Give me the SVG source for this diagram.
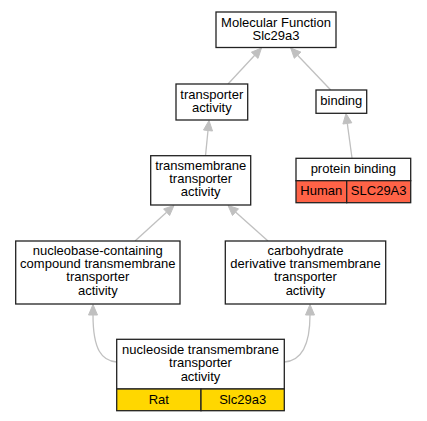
<svg xmlns="http://www.w3.org/2000/svg" width="427" height="421" viewBox="0 0 427 421">
<style>
.box{fill:#fff;stroke:#222;stroke-width:1.3}
.rat{fill:#ffd700;stroke:#222;stroke-width:1.3}
.hum{fill:#ff6347;stroke:#222;stroke-width:1.3}
text{font-family:"Liberation Sans",Arial,sans-serif;font-size:13px;fill:#000;text-anchor:middle}
.edge{fill:none;stroke:#c0c0c0;stroke-width:1.3}
.head{fill:#c0c0c0;stroke:#c0c0c0;stroke-width:1}
</style>
<rect width="427" height="421" fill="#fff"/>
<g id="connectors">
<path class="edge" d="M228,84 L254.7,55.3"/>
<polygon class="head" points="261.5,48 258,58.4 251.4,52.2"/>
<path class="edge" d="M330.7,90 L297.6,55.2"/>
<polygon class="head" points="290.7,48 300.9,52.1 294.3,58.3"/>
<path class="edge" d="M352,158 L347.3,123.4"/>
<polygon class="head" points="346,113.5 351.8,122.8 342.9,124"/>
<path class="edge" d="M205.5,155.7 L208,130.5"/>
<polygon class="head" points="209,120.5 212.5,131 203.5,130"/>
<path class="edge" d="M135,241 L166.6,212.2"/>
<polygon class="head" points="174,205.5 169.6,215.5 163.6,208.9"/>
<path class="edge" d="M268,241 L235.5,212.1"/>
<polygon class="head" points="228,205.5 238.5,208.8 232.5,215.5"/>
<path class="edge" d="M116.7,362 C102,361 93,350 93,315"/>
<polygon class="head" points="93,304.5 97.5,315 88.5,315"/>
<path class="edge" d="M284.3,362 C299,361 310,350 310,315"/>
<polygon class="head" points="310,304.5 314.5,315 305.5,315"/>
</g>
<g id="mf">
<rect class="box" x="216" y="12" width="120" height="35.5"/>
<text x="276" y="26.5">Molecular Function</text>
<text x="276" y="39.8">Slc29a3</text>
</g>
<g id="transporter">
<rect class="box" x="176" y="84" width="71.7" height="36"/>
<text x="211.8" y="98.5">transporter</text>
<text x="211.8" y="111.5">activity</text>
</g>
<g id="binding">
<rect class="box" x="316" y="90" width="50.7" height="23.3"/>
<text x="341.3" y="104.5">binding</text>
</g>
<g id="protein-binding">
<rect class="box" x="296" y="158.3" width="114.7" height="22.4"/>
<rect class="hum" x="296" y="180.7" width="50.7" height="22"/>
<rect class="hum" x="346.7" y="180.7" width="64" height="22"/>
<text x="353.3" y="173.3">protein binding</text>
<text x="321.3" y="195">Human</text>
<text x="378.7" y="195">SLC29A3</text>
</g>
<g id="transmembrane">
<rect class="box" x="150.7" y="155.7" width="100" height="49.3"/>
<text x="200.7" y="169.8">transmembrane</text>
<text x="200.7" y="183">transporter</text>
<text x="200.7" y="196.3">activity</text>
</g>
<g id="nucleobase">
<rect class="box" x="15.7" y="241" width="164.3" height="63"/>
<text x="97.8" y="254.8">nucleobase-containing</text>
<text x="97.8" y="268.2">compound transmembrane</text>
<text x="97.8" y="281.4">transporter</text>
<text x="97.8" y="294.7">activity</text>
</g>
<g id="carbohydrate">
<rect class="box" x="225.3" y="241" width="160.4" height="63"/>
<text x="305.5" y="254.8">carbohydrate</text>
<text x="305.5" y="268.2">derivative transmembrane</text>
<text x="305.5" y="281.4">transporter</text>
<text x="305.5" y="294.7">activity</text>
</g>
<g id="nucleoside">
<rect class="box" x="116.7" y="339.3" width="167.6" height="49.7"/>
<rect class="rat" x="116.7" y="389" width="84.3" height="21.7"/>
<rect class="rat" x="201" y="389" width="83.3" height="21.7"/>
<text x="200.5" y="354">nucleoside transmembrane</text>
<text x="200.5" y="367">transporter</text>
<text x="200.5" y="380.5">activity</text>
<text x="158.8" y="403.5">Rat</text>
<text x="242.7" y="403.5">Slc29a3</text>
</g>
</svg>
